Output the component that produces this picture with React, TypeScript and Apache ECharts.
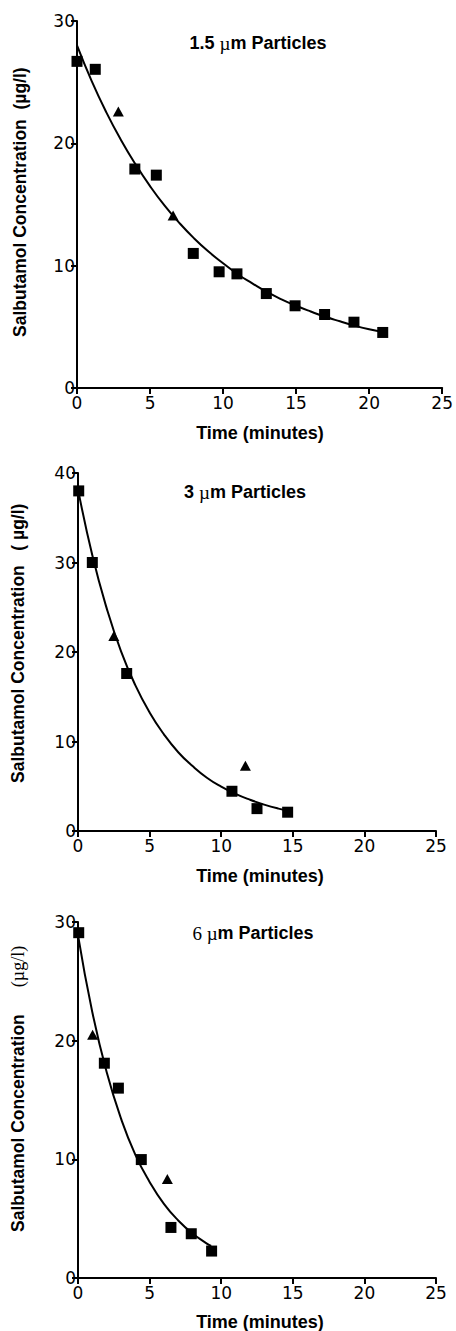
import React, { useEffect, useRef } from "react";
import * as echarts from "echarts";

// ---- data ----
const xTickLabels = ["0", "5", "10", "15", "20", "25"];

// Panel 1: 1.5 µm particles
const p1Squares: number[][] = [
  [0, 26.7], [1.25, 26.05], [3.96, 17.9], [5.43, 17.4], [7.96, 11.0], [9.73, 9.5],
  [10.95, 9.33], [12.96, 7.72], [14.93, 6.72], [16.95, 6.01], [18.96, 5.38], [20.93, 4.54],
];
const p1Triangles: number[][] = [[2.83, 22.6], [6.58, 14.1]];
const p1CurveT = [0, 1, 2, 3, 4, 5, 6, 7, 8, 9, 10, 11, 12, 13, 14, 15, 16, 17, 18, 19, 20, 21];
const p1CurveY = [28.0, 25.1, 22.55, 20.3, 18.3, 16.5, 14.9, 13.5, 12.25, 11.15, 10.2, 9.3, 8.55, 7.85, 7.25, 6.72, 6.25, 5.82, 5.45, 5.1, 4.8, 4.55];

// Panel 2: 3 µm particles
const p2Squares: number[][] = [
  [0.05, 38.0], [1.0, 30.0], [3.4, 17.6], [10.75, 4.44], [12.5, 2.5], [14.64, 2.1],
];
const p2Triangles: number[][] = [[2.5, 21.8], [11.69, 7.3]];
const p2CurveT = [0, 1, 2, 3, 4, 5, 6, 7, 8, 9, 10, 11, 12, 13, 14, 14.6];
const p2CurveY = [38.2, 30.8, 24.9, 20.1, 16.3, 13.25, 10.8, 8.8, 7.25, 5.95, 4.95, 4.15, 3.5, 2.95, 2.5, 2.3];

// Panel 3: 6 µm particles
const p3Squares: number[][] = [
  [0.05, 29.1], [1.84, 18.1], [2.82, 16.0], [4.42, 9.98], [6.49, 4.26], [7.91, 3.73], [9.33, 2.27],
];
const p3Triangles: number[][] = [[1.02, 20.5], [6.24, 8.35]];
const p3CurveT = [0, 1, 2, 3, 4, 5, 6, 7, 8, 9, 9.3];
const p3CurveY = [28.9, 22.4, 17.35, 13.45, 10.4, 8.1, 6.25, 4.85, 3.75, 2.9, 2.7];

const yMaxes = [30, 40, 30];
const panelTitles = [
  ["1.5 ", "\u00b5", "m Particles"],
  ["3 ", "\u00b5", "m Particles"],
  ["6 ", "\u00b5", "m Particles"],
];
const xTitle = "Time (minutes)";
const yTitleMain = "Salbutamol Concentration";
const yTitleUnits = ["\u00a0\u00a0(\u00b5g/l)", "\u00a0\u00a0\u00a0(\u00a0\u00b5g/l)", "\u00a0\u00a0\u00a0\u00a0\u00a0\u00a0(\u00b5g/l)"];

const SANS = "'Liberation Sans', Arial, Helvetica, sans-serif";
const SERIF = "'Liberation Serif', 'Times New Roman', serif";
const TICKFONT = "'DejaVu Sans', sans-serif";

export default function App() {
  const ref = useRef<HTMLDivElement>(null);

  useEffect(() => {
    if (!ref.current) return;
    const chart = echarts.init(ref.current, undefined, { renderer: "svg" });

    const grids = [
      { left: 77, top: 21, width: 368, height: 367 },
      { left: 78, top: 473, width: 358, height: 358 },
      { left: 78, top: 922, width: 358, height: 356 },
    ];

    const pair = (t: number[], y: number[]) => t.map((v, i) => [v, y[i]]);
    const curves = [pair(p1CurveT, p1CurveY), pair(p2CurveT, p2CurveY), pair(p3CurveT, p3CurveY)];
    const squares = [p1Squares, p2Squares, p3Squares];
    const triangles = [p1Triangles, p2Triangles, p3Triangles];

    const axisLine = { lineStyle: { color: "#000", width: 2 } };
    const axisTick = { show: true, inside: false, length: 6, lineStyle: { color: "#000", width: 2 } };

    const xAxis = grids.map((_, i) => ({
      type: "value",
      gridIndex: i,
      min: 0,
      max: 25,
      interval: 5,
      axisLine: { show: true, onZero: false, ...axisLine },
      axisTick,
      splitLine: { show: false },
      axisLabel: {
        color: "#000",
        fontFamily: TICKFONT,
        fontSize: 17,
        margin: 6,
        formatter: (v: number) => xTickLabels[Math.round(v / 5)] ?? String(v),
      },
    }));

    const yAxis = grids.map((_, i) => ({
      type: "value",
      gridIndex: i,
      min: 0,
      max: yMaxes[i],
      interval: 10,
      axisLine: { show: true, onZero: false, ...axisLine },
      axisTick,
      splitLine: { show: false },
      axisLabel: { color: "#000", fontFamily: TICKFONT, fontSize: 17, margin: 2 },
    }));

    const series: any[] = [];
    for (let i = 0; i < 3; i++) {
      series.push({
        type: "line",
        xAxisIndex: i,
        yAxisIndex: i,
        data: curves[i],
        smooth: 0.5,
        showSymbol: false,
        symbol: "none",
        lineStyle: { color: "#000", width: 2 },
        z: 2,
      });
      series.push({
        type: "scatter",
        xAxisIndex: i,
        yAxisIndex: i,
        data: squares[i],
        symbol: "rect",
        symbolSize: 11,
        itemStyle: { color: "#000", opacity: 1 },
        clip: false,
        z: 3,
      });
      series.push({
        type: "scatter",
        xAxisIndex: i,
        yAxisIndex: i,
        data: triangles[i],
        symbol: "triangle",
        symbolSize: [11, 10],
        itemStyle: { color: "#000", opacity: 1 },
        clip: false,
        z: 3,
      });
    }

    const titlePos = [
      { x: 258, y: 43 },
      { x: 245, y: 492 },
      { x: 253, y: 933 },
    ];
    const xTitleY = [433, 876, 1322];
    const yTitleStart = [
      { x: 20, y: 337 },
      { x: 18, y: 783 },
      { x: 18, y: 1232 },
    ];

    const graphic: any[] = [];
    for (let i = 0; i < 3; i++) {
      const [a, mu, b] = panelTitles[i];
      graphic.push({
        type: "text",
        x: titlePos[i].x,
        y: titlePos[i].y,
        style: {
          text: `{${i === 2 ? "d" : "n"}|${a}}{u|${mu}}{n|${b}}`,
          align: "center",
          verticalAlign: "middle",
          rich: {
            n: { fontFamily: SANS, fontWeight: "bold", fontSize: 18, fill: "#000" },
            d: { fontFamily: SERIF, fontWeight: "normal", fontSize: 19, fill: "#000" },
            u: { fontFamily: SERIF, fontWeight: "normal", fontSize: 19, fill: "#000" },
          },
        },
      });
      graphic.push({
        type: "text",
        x: 260,
        y: xTitleY[i],
        style: {
          text: xTitle,
          align: "center",
          verticalAlign: "middle",
          fontFamily: SANS,
          fontWeight: "bold",
          fontSize: 18,
          fill: "#000",
        },
      });
      graphic.push({
        type: "text",
        x: yTitleStart[i].x,
        y: yTitleStart[i].y,
        rotation: Math.PI / 2,
        style: {
          text: `{m|${yTitleMain}}{${i === 2 ? "s" : "m"}|${yTitleUnits[i]}}`,
          align: "left",
          verticalAlign: "middle",
          rich: {
            m: { fontFamily: SANS, fontWeight: "bold", fontSize: 17.5, fill: "#000" },
            s: { fontFamily: SERIF, fontWeight: "normal", fontSize: 18, fill: "#000" },
          },
        },
      });
    }

    chart.setOption({
      animation: false,
      backgroundColor: "#fff",
      grid: grids.map((g) => ({ ...g, containLabel: false })),
      xAxis,
      yAxis,
      series,
      graphic,
    });

    return () => chart.dispose();
  }, []);

  return (
    <div
      ref={ref}
      style={{ position: "absolute", left: 0, top: 0, width: 456, height: 1331, background: "#fff" }}
    />
  );
}
